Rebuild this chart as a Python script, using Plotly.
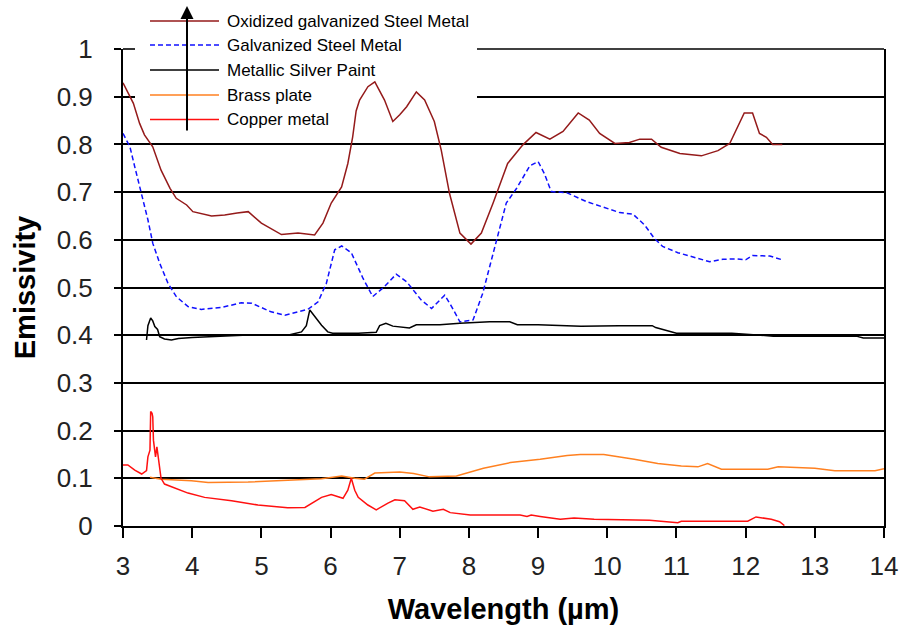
import plotly.graph_objects as go

# Emissivity spectra, wavelength in micrometres
oxidized_wl = [3.00, 3.15, 3.24, 3.31, 3.43, 3.55, 3.68, 3.77, 3.92, 4.01, 4.28, 4.47, 4.65, 4.81,
               5.00, 5.29, 5.53, 5.77, 5.89, 6.01, 6.16, 6.25, 6.32, 6.37, 6.42, 6.54, 6.64, 6.78,
               6.90, 7.00, 7.10, 7.24, 7.36, 7.50, 7.60, 7.72, 7.87, 8.03, 8.18, 8.35, 8.56, 8.78,
               8.97, 9.17, 9.36, 9.58, 9.74, 9.89, 10.11, 10.32, 10.47, 10.64, 10.78, 11.05, 11.36,
               11.60, 11.77, 11.89, 11.98, 12.10, 12.20, 12.30, 12.39, 12.53]
oxidized_em = [0.929, 0.886, 0.844, 0.820, 0.795, 0.746, 0.708, 0.687, 0.673, 0.659, 0.650, 0.652, 0.656, 0.659,
               0.635, 0.611, 0.614, 0.610, 0.635, 0.677, 0.711, 0.760, 0.816, 0.870, 0.893, 0.921, 0.931, 0.893,
               0.848, 0.862, 0.879, 0.910, 0.893, 0.848, 0.788, 0.697, 0.614, 0.591, 0.614, 0.677, 0.760, 0.799,
               0.825, 0.811, 0.827, 0.866, 0.851, 0.823, 0.802, 0.804, 0.811, 0.811, 0.794, 0.781, 0.776,
               0.787, 0.802, 0.837, 0.866, 0.866, 0.823, 0.815, 0.800, 0.800]

galvanized_wl = [3.00, 3.10, 3.17, 3.27, 3.36, 3.43, 3.53, 3.65, 3.77, 3.94, 4.13, 4.42, 4.71, 4.86,
                 5.14, 5.34, 5.67, 5.82, 5.94, 6.06, 6.16, 6.30, 6.47, 6.61, 6.78, 6.95, 7.10, 7.31,
                 7.46, 7.65, 7.75, 7.87, 8.06, 8.20, 8.35, 8.44, 8.54, 8.69, 8.88, 9.00, 9.09, 9.19,
                 9.41, 9.70, 9.98, 10.18, 10.37, 10.54, 10.68, 10.80, 11.02, 11.29, 11.48, 11.67,
                 11.86, 12.00, 12.10, 12.35, 12.53]
galvanized_em = [0.823, 0.795, 0.753, 0.697, 0.642, 0.593, 0.551, 0.509, 0.481, 0.460, 0.454, 0.458, 0.468, 0.467,
                 0.449, 0.442, 0.454, 0.470, 0.509, 0.579, 0.587, 0.573, 0.519, 0.481, 0.502, 0.528, 0.512, 0.474,
                 0.456, 0.484, 0.460, 0.428, 0.432, 0.488, 0.572, 0.627, 0.677, 0.708, 0.755, 0.764, 0.739, 0.701,
                 0.699, 0.680, 0.666, 0.657, 0.654, 0.631, 0.603, 0.586, 0.573, 0.561, 0.554, 0.559,
                 0.560, 0.558, 0.567, 0.566, 0.558]

silver_wl = [3.34, 3.36, 3.40, 3.43, 3.46, 3.50, 3.53, 3.60, 3.70, 3.80, 4.00, 4.30, 4.60, 4.73, 5.00,
             5.38, 5.58, 5.65, 5.70, 5.77, 5.87, 5.96, 6.03, 6.40, 6.66, 6.71, 6.80, 6.90, 7.14, 7.24,
             7.58, 7.87, 8.30, 8.59, 8.70, 9.00, 9.62, 10.17, 10.65, 10.70, 11.00, 11.80, 12.40, 13.60,
             13.70, 14.00]
silver_em = [0.390, 0.420, 0.436, 0.430, 0.418, 0.412, 0.397, 0.392, 0.390, 0.393, 0.395, 0.397, 0.399, 0.400, 0.400,
             0.400, 0.407, 0.420, 0.453, 0.439, 0.421, 0.407, 0.404, 0.404, 0.406, 0.420, 0.425, 0.419, 0.415, 0.422,
             0.422, 0.425, 0.428, 0.428, 0.422, 0.422, 0.419, 0.420, 0.420, 0.416, 0.404, 0.404, 0.398, 0.398,
             0.394, 0.394]

brass_wl = [3.39, 3.55, 3.99, 4.23, 4.81, 5.38, 5.87, 6.16, 6.35, 6.49, 6.64, 7.00, 7.20, 7.43, 7.82,
            8.21, 8.60, 9.03, 9.42, 9.61, 9.95, 10.39, 10.73, 11.07, 11.31, 11.45, 11.65, 12.32, 12.47,
            13.00, 13.29, 13.87, 14.00]
brass_em = [0.102, 0.098, 0.095, 0.091, 0.092, 0.095, 0.099, 0.105, 0.100, 0.098, 0.111, 0.113, 0.110, 0.103, 0.105,
            0.121, 0.133, 0.140, 0.148, 0.150, 0.150, 0.140, 0.131, 0.126, 0.124, 0.131, 0.119, 0.119, 0.124,
            0.121, 0.116, 0.116, 0.120]

copper_wl = [3.00, 3.07, 3.17, 3.27, 3.34, 3.36, 3.39, 3.40, 3.42, 3.43, 3.44, 3.47, 3.49, 3.52, 3.55,
             3.60, 3.75, 3.94, 4.18, 4.57, 4.95, 5.38, 5.63, 5.87, 6.01, 6.18, 6.25, 6.30, 6.35, 6.40,
             6.54, 6.66, 6.83, 6.93, 7.07, 7.19, 7.29, 7.48, 7.63, 7.73, 8.02, 8.74, 8.84, 8.90, 9.03,
             9.32, 9.52, 9.81, 10.61, 11.02, 11.07, 12.03, 12.15, 12.23, 12.37, 12.49, 12.56]
copper_em = [0.128, 0.128, 0.117, 0.109, 0.116, 0.145, 0.159, 0.240, 0.236, 0.229, 0.180, 0.145, 0.166, 0.131, 0.100,
             0.088, 0.079, 0.069, 0.060, 0.053, 0.044, 0.038, 0.039, 0.060, 0.066, 0.058, 0.075, 0.100, 0.075, 0.060,
             0.044, 0.034, 0.048, 0.055, 0.053, 0.035, 0.040, 0.031, 0.035, 0.028, 0.023, 0.023, 0.020, 0.023, 0.020,
             0.014, 0.017, 0.014, 0.012, 0.007, 0.010, 0.010, 0.019, 0.017, 0.014, 0.009, 0.001]

series = [
    ("Oxidized galvanized Steel Metal", oxidized_wl, oxidized_em, "#941a1a", "solid"),
    ("Galvanized Steel Metal", galvanized_wl, galvanized_em, "#1010ff", "5px,3px"),
    ("Metallic Silver Paint", silver_wl, silver_em, "#000000", "solid"),
    ("Brass plate", brass_wl, brass_em, "#ff8020", "solid"),
    ("Copper metal", copper_wl, copper_em, "#ff1010", "solid"),
]

X_RANGE = [3, 14]
Y_RANGE = [0, 1]

W, H = 901, 628
ML, MR, MT, MB = 123, 17, 49, 102
FONT = "Liberation Sans, Arial, sans-serif"
PLOT_W = W - ML - MR
PLOT_H = H - MT - MB
GRID_COLOR, GRID_WIDTH = "#000", 1.6
KEY_LEFT, KEY_RIGHT = 135, 477   # pixel columns of the key's white box

def px_x(px):
    """page pixel column -> paper fraction"""
    return (px - ML) / PLOT_W

def px_y(py):
    """page pixel row -> paper fraction"""
    return (H - MB - py) / PLOT_H

def paper_to_x(f):
    return X_RANGE[0] + f * (X_RANGE[1] - X_RANGE[0])

def paper_to_y(f):
    return Y_RANGE[0] + f * (Y_RANGE[1] - Y_RANGE[0])

fig = go.Figure()
for name, wl, em, color, dash in series:
    fig.add_trace(go.Scatter(x=wl, y=em, name=name, mode="lines",
                             line=dict(color=color, width=1.5, dash=dash)))

shapes = [
    # white backing behind the key: sits above the gridlines, below the curves
    dict(type="rect", xref="x", yref="y", layer="between",
         x0=paper_to_x(px_x(KEY_LEFT)), x1=paper_to_x(px_x(KEY_RIGHT)),
         y0=paper_to_y(px_y(133)), y1=paper_to_y(px_y(20)),
         fillcolor="white", line=dict(width=0)),
    # top gridline (plot edge), interrupted by the key
    dict(type="line", xref="paper", yref="paper", x0=0, x1=px_x(KEY_LEFT), y0=1, y1=1,
         line=dict(color=GRID_COLOR, width=GRID_WIDTH)),
    dict(type="line", xref="paper", yref="paper", x0=px_x(KEY_RIGHT), x1=1, y0=1, y1=1,
         line=dict(color=GRID_COLOR, width=GRID_WIDTH)),
]
annotations = []
row_y = [21, 45, 70, 95, 119.5]
for (name, wl, em, color, dash), ry in zip(series, row_y):
    shapes.append(dict(type="line", xref="paper", yref="paper",
                       x0=px_x(150), x1=px_x(219), y0=px_y(ry), y1=px_y(ry),
                       line=dict(color=color, width=1.6, dash=dash)))
    annotations.append(dict(text=name, xref="paper", yref="paper", x=px_x(225), y=px_y(ry),
                            xanchor="left", yanchor="middle", showarrow=False,
                            font=dict(family=FONT, size=17, color="black")))

# upward arrow through the key
annotations.append(dict(text="", xref="paper", yref="paper", x=px_x(187), y=px_y(6),
                        ax=0, ay=126, showarrow=True, arrowhead=2, arrowsize=1.3,
                        arrowwidth=2, arrowcolor="black", standoff=0))

fig.update_layout(
    width=W, height=H,
    margin=dict(l=ML, r=MR, t=MT, b=MB, autoexpand=False),
    paper_bgcolor="white", plot_bgcolor="white",
    showlegend=False,
    font=dict(family=FONT, color="black"),
    shapes=shapes, annotations=annotations,
    xaxis=dict(range=X_RANGE, dtick=1, showgrid=False, zeroline=False, automargin=False,
               showline=True, linecolor="black", linewidth=2,
               ticks="outside", ticklen=10, tickwidth=2, tickcolor="black",
               tickfont=dict(family=FONT, size=26, color="#222"),
               ticklabelstandoff=6,
               title=dict(text="<b>Wavelength (µm)</b>", standoff=18,
                          font=dict(family=FONT, size=29, color="black"))),
    yaxis=dict(range=Y_RANGE, tick0=0, dtick=0.1, showgrid=True,
               gridcolor=GRID_COLOR, gridwidth=GRID_WIDTH,
               zeroline=False, showline=True, mirror=True, linecolor="black", linewidth=2,
               automargin=False,
               ticks="outside", ticklen=7, tickwidth=2, tickcolor="black",
               tickfont=dict(family=FONT, size=26, color="#222"),
               ticklabelstandoff=16,
               title=dict(text="<b>Emissivity</b>", standoff=12,
                          font=dict(family=FONT, size=29, color="black"))),
)

fig.write_html("out.html")
